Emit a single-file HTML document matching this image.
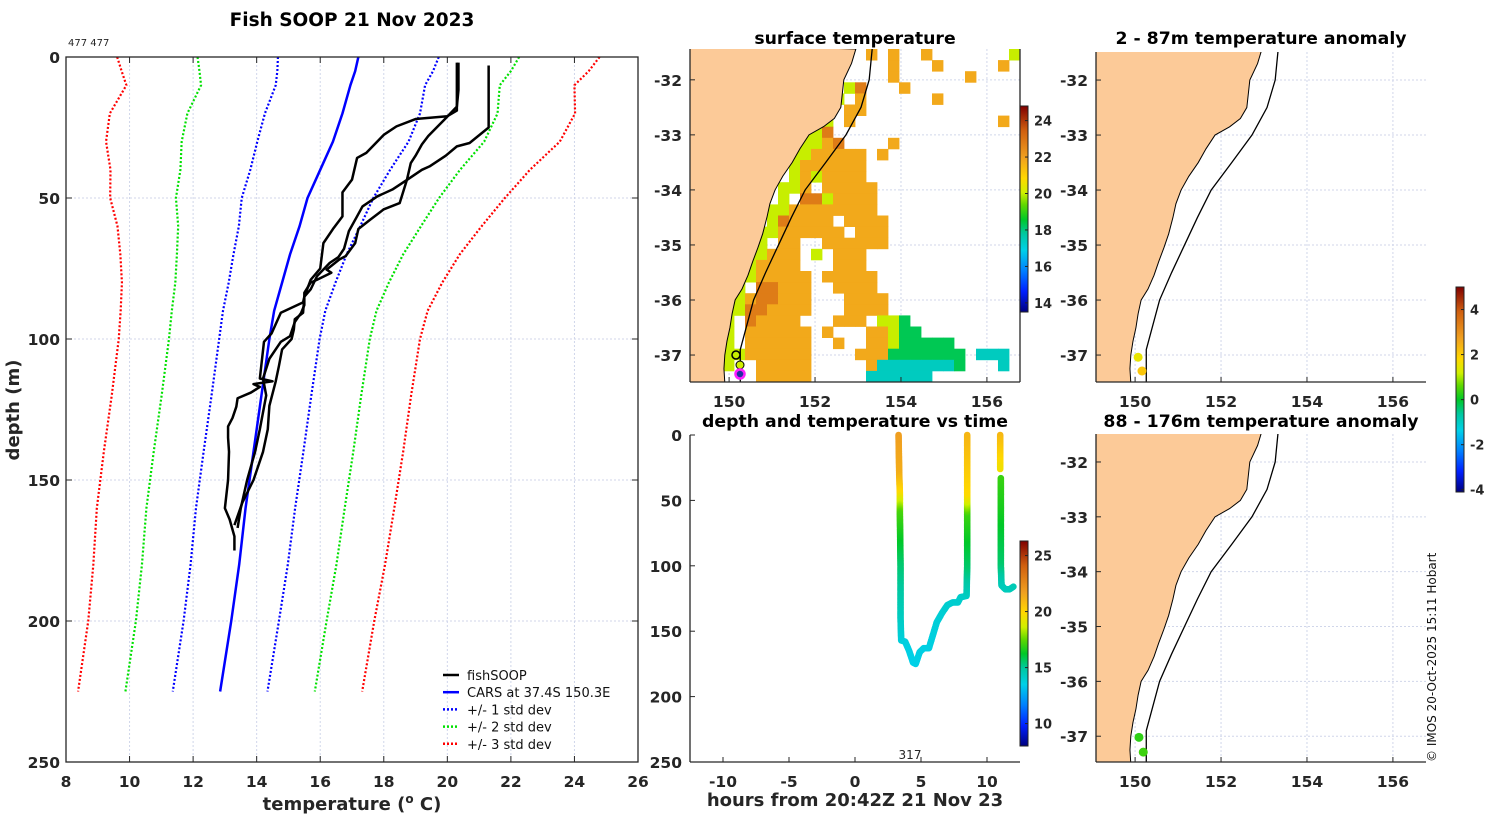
<!DOCTYPE html>
<html><head><meta charset="utf-8"><style>
html,body{margin:0;padding:0;background:#fff;}
svg{display:block;font-family:"DejaVu Sans","Liberation Sans",sans-serif;}
.tk{font-size:15.5px;font-weight:bold;fill:#262626;}
.ax{font-size:18px;font-weight:bold;fill:#262626;}
.ttl{font-size:17.3px;font-weight:bold;fill:#000;}
</style></head><body>
<svg id="fig" width="1500" height="820" viewBox="0 0 1500 820" xmlns="http://www.w3.org/2000/svg"></svg>
<script>
// ---------- Profile panel data ----------
const carsDepth = [0,5,10,20,30,40,50,60,70,80,90,100,120,140,160,180,200,225];
const carsMean  = [17.2,17.1,16.95,16.7,16.4,16.0,15.6,15.35,15.05,14.8,14.55,14.4,14.15,13.9,13.65,13.45,13.2,12.85];
const carsStd   = [2.53,2.45,2.35,2.44,2.38,2.2,2.07,1.91,1.78,1.68,1.61,1.58,1.57,1.57,1.56,1.53,1.5,1.49];
const soop1T = [20.3,20.3,20.3,20.0,19.0,18.4,18.0,17.45,17.16,17.0,16.7,16.7,16.4,16.1,16.0,15.7,15.5,15.46,14.76,14.47,14.23,14.1,14.5,13.9,14.1,13.82,13.4,13.36,13.24,13.1,13.1,13.13,13.1,13.0,13.15,13.3,13.3];
const soop1D = [2,14,19,21,22,24.6,27.6,34,35.8,43.5,48,56.5,61,66,75,79,85,87,90.7,98,101,114,115,116,117,119,121,124,128,131,135,140,150,160,164,170,175];
const soop2T = [20.35,20.35,20.3,19.9,19.4,19.2,19.0,18.85,18.73,18.5,18.0,17.57,17.2,17.1,16.8,16.6,16.2,16.35,15.9,15.7,15.5,15.5,15.4,15.2,15.05,14.76,14.4,14.2,14.3,14.1,13.95,13.7,13.5,13.4];
const soop2D = [2,11.7,17.6,22.3,28,31,35,37.6,43.5,51.8,54,57.7,61,66,70.6,71.8,75.4,76.5,79,80,83.6,88,90.7,94,99,101,107,114,120,132,140,150,160,167];
const soop3T = [21.3,21.3,20.7,20.3,19.95,19.44,19.2,18.74,18.27,17.8,17.33,17.16,16.9,16.75,16.57,16.3,15.9,15.7,15.5,15.46,15.2,15.17,15.1,14.8,14.7,14.6,14.4,14.35,14.2,13.9,13.55,13.3];
const soop3D = [3,25,30.5,31.7,35,38.8,40,43.5,47,49.4,53,56.5,61.8,68,71,73,77.7,82.4,85,90.7,93,96.6,100,103.7,109.6,115,123.7,132,140,150,158,166];
const profXTicks = [8,10,12,14,16,18,20,22,24,26];
const profYTicks = [0,50,100,150,200,250];

// ---------- SST grid (30 x 30 cells), char codes -> temperature ----------
const sstCodes = {y:20.0, o:21.8, d:22.8, g:18.3, t:17.4};
const sstRows = [
"................o.o..o.......y",
"..................o...o.....o.",
"..................o......o....",
"..............yd...o..........",
".............y.o......o.......",
"............y.oo..............",
"...........yy.o.............o.",
"..........yyd.................",
".........yyyod....o...........",
".........yyooooo.o............",
".........yoooooo..............",
".........yoyoooo..............",
"........yyo.ooooo.............",
"........y.ddyoooo.............",
".......yyoooooooo.............",
".......ydoooo.oooo............",
"......yyoooooo.ooo............",
"......y.oo..oooooo............",
".....yyooo.y.ooo..............",
".....yoooo...ooo..............",
"....yyooooo.ooooo.............",
"....y.ddooo..oooo.............",
"....yoddooo...oooo............",
"...yyddoooo...oooo............",
"...y.doooo...ooo.yyg..........",
"...y.oooooo.o...ooygg.........",
"...y.oooooo..o..ooyggggg......",
"...yyoooooo....oooggggggg.ttt.",
"...y..ooooo.....otttttttg...t.",
"......ooooo.....tttttt........"
];
// coastline and 200 m isobath (lon, lat)
const coastLon = [152.95,152.85,152.67,152.6,152.45,152.2,151.86,151.65,151.47,151.25,151.07,150.95,150.88,150.78,150.67,150.55,150.44,150.3,150.14,150.07,150.02,149.95,149.9,149.88,149.9];
const coastLat = [-31.44,-31.7,-32.0,-32.5,-32.7,-32.85,-33.0,-33.25,-33.5,-33.75,-34.0,-34.25,-34.5,-34.8,-35.05,-35.3,-35.55,-35.8,-36.0,-36.25,-36.5,-36.75,-37.0,-37.25,-37.5];
const isoLon = [153.33,153.26,153.07,152.72,152.25,151.77,151.45,151.15,150.85,150.57,150.26,150.26];
const isoLat = [-31.44,-32.0,-32.5,-33.0,-33.5,-34.0,-34.5,-35.0,-35.5,-36.0,-36.9,-37.5];
const mapLonTicks = [150,152,154,156];
const mapLatTicks = [-32,-33,-34,-35,-36,-37];
const anomShallowLon = [150.07,150.16], anomShallowLat = [-37.04,-37.29], anomShallowVal = [1.5,2.1];
const anomDeepLon = [150.09,150.19], anomDeepLat = [-37.02,-37.29], anomDeepVal = [0.3,0.4];

// ---------- time-depth data ----------
const tdT1 = [3.3,3.35,3.4,3.4,3.45,3.45,3.5,3.8,4.1,4.4,4.6,4.9,5.2,5.6,5.9,6.2,6.6,7.0,7.4,7.8,8.0,8.45,8.5,8.5,8.5,8.5];
const tdD1 = [0,30,45,60,100,140,157,158,165,174,175,166,163,163,153,143,136,130,128,128,124,123,100,60,45,0];
const tdC1 = [21.8,21.3,19.8,17.2,15.5,14.3,13.8,13.7,13.6,13.5,13.5,13.6,13.6,13.6,13.7,13.8,13.9,14.0,14.0,14.0,14.1,14.2,15.5,17.0,19.8,21.0];
const tdT2 = [11.0,11.0];
const tdD2 = [0,26];
const tdC2 = [21.0,19.5];
const tdT3 = [11.05,11.05,11.05,11.1,11.4,11.7,12.0];
const tdD3 = [33,60,100,115,118,118,116];
const tdC3 = [17.0,16.5,15.5,14.5,14.4,14.4,14.5];
const tdXTicks = [-10,-5,0,5,10];
const tdYTicks = [0,50,100,150,200,250];
const sstCbTicks = [14,16,18,20,22,24];
const tdCbTicks = [10,15,20,25];
const anomCbTicks = [-4,-2,0,2,4];

// ---------- helpers ----------
const NS = "http://www.w3.org/2000/svg";
const svg = document.getElementById('fig');
function mk(tag, attrs, parent){
  const e = document.createElementNS(NS, tag);
  for (const k in attrs) e.setAttribute(k, attrs[k]);
  (parent||svg).appendChild(e); return e;
}
function txt(x,y,s,cls,anchor,parent){
  const t = mk('text',{x:x,y:y,'class':cls||'tk','text-anchor':anchor||'middle'},parent);
  t.textContent = s; return t;
}
const stops = [[0,[0,0,127]],[0.1,[0,32,255]],[0.2,[0,128,255]],[0.3,[0,208,232]],[0.38,[0,200,160]],[0.45,[0,200,40]],[0.52,[96,216,0]],[0.58,[208,240,0]],[0.65,[255,216,0]],[0.75,[240,160,32]],[0.88,[208,96,16]],[1,[128,0,0]]];
function cmap(f){
  f = Math.max(0,Math.min(1,f));
  for (let i=1;i<stops.length;i++){
    if (f<=stops[i][0]){
      const a=stops[i-1], b=stops[i], u=(f-a[0])/(b[0]-a[0]);
      const c=a[1].map((v,j)=>Math.round(v+(b[1][j]-v)*u));
      return 'rgb('+c.join(',')+')';
    }
  }
  return 'rgb(128,0,0)';
}
let gradN = 0;
function colorbar(x,y0,y1,vmin,vmax,ticks,name){
  const g = mk('g',{});
  
  
  const id = 'cg'+(gradN++);
  const defs = mk('defs',{},g);
  const lg = mk('linearGradient',{id:id,x1:0,y1:1,x2:0,y2:0},defs);
  stops.forEach(s=>mk('stop',{offset:s[0],'stop-color':cmap(s[0])},lg));
  mk('rect',{x:x,y:y0,width:8,height:y1-y0,fill:'url(#'+id+')',stroke:'#222','stroke-width':1},g);
  ticks.forEach(v=>{
    const yy = y1-(v-vmin)/(vmax-vmin)*(y1-y0);
    mk('line',{x1:x+5,x2:x+8,y1:yy,y2:yy,stroke:'#222'},g);
    txt(x+14,yy+5,String(v),'tk','start',g).setAttribute('style','font-size:13px');
  });
}

// ---------- Profile panel ----------
(function(){
  const X0=66,X1=638,Y0=57,Y1=762;
  const sx = v=>X0+(v-8)/18*(X1-X0);
  const sy = d=>Y0+d/250*(Y1-Y0);
  const g = mk('g',{});
  
  
  profXTicks.forEach(v=>{ if(v>8&&v<26) mk('line',{x1:sx(v),x2:sx(v),y1:Y0,y2:Y1,stroke:'#d0d6ea','stroke-dasharray':'2,2','stroke-width':1},g); });
  profYTicks.forEach(v=>{ if(v>0&&v<250) mk('line',{x1:X0,x2:X1,y1:sy(v),y2:sy(v),stroke:'#d0d6ea','stroke-dasharray':'2,2','stroke-width':1},g); });
  function pl(xs,ds,col,w,dash,name){
    const p = mk('polyline',{points:xs.map((v,i)=>sx(v)+','+sy(ds[i])).join(' '),fill:'none',stroke:col,'stroke-width':w,'stroke-linejoin':'round'},g);
    if(dash) p.setAttribute('stroke-dasharray',dash);
    
    
  }
  const cols = {1:'#0000ff',2:'#00e000',3:'#ff0000'};
  [3,2,1].forEach(k=>{
    pl(carsMean.map((m,i)=>m-k*carsStd[i]),carsDepth,cols[k],2.2,'2,2','cars-minus-'+k+'-std');
    pl(carsMean.map((m,i)=>m+k*carsStd[i]),carsDepth,cols[k],2.2,'2,2','cars-plus-'+k+'-std');
  });
  pl(carsMean,carsDepth,'#0000ff',2.5,null,'cars-mean-line');
  pl(soop1T,soop1D,'#000',2.5,null,'fishsoop-profile-1');
  pl(soop2T,soop2D,'#000',2.5,null,'fishsoop-profile-2');
  pl(soop3T,soop3D,'#000',2.5,null,'fishsoop-profile-3');
  mk('rect',{x:X0,y:Y0,width:X1-X0,height:Y1-Y0,fill:'none',stroke:'#262626','stroke-width':1.3},g);
  profXTicks.forEach(v=>{
    mk('line',{x1:sx(v),x2:sx(v),y1:Y1,y2:Y1-6,stroke:'#262626'},g);
    mk('line',{x1:sx(v),x2:sx(v),y1:Y0,y2:Y0+6,stroke:'#262626'},g);
    txt(sx(v),787,String(v),'tk','middle',g);
  });
  profYTicks.forEach(v=>{
    mk('line',{x1:X0,x2:X0+6,y1:sy(v),y2:sy(v),stroke:'#262626'},g);
    mk('line',{x1:X1,x2:X1-6,y1:sy(v),y2:sy(v),stroke:'#262626'},g);
    txt(60,sy(v)+6,String(v),'tk','end',g);
  });
  const xl = mk('text',{x:352,y:810,'class':'ax','text-anchor':'middle'},g);
  
  
  xl.innerHTML = 'temperature (<tspan dy="-7" font-size="12">o</tspan><tspan dy="7"> C)</tspan>';
  const yl = txt(0,0,'depth (m)','ax','middle',g);
  yl.setAttribute('transform','translate(19,410) rotate(-90)');
  
  
  const t = txt(352,26,'Fish SOOP 21 Nov 2023','ttl','middle',g);
  t.setAttribute('style','font-size:18.5px');
  
  
  const n = txt(68,46,'477 477','tk','start',g);
  n.setAttribute('style','font-size:10px;font-weight:normal');
  // legend
  const lg = mk('g',{},g);
  
  
  const items = [['fishSOOP','#000',null],['CARS at 37.4S 150.3E','#0000ff',null],['+/- 1 std dev','#0000ff','2,2'],['+/- 2 std dev','#00e000','2,2'],['+/- 3 std dev','#ff0000','2,2']];
  items.forEach((it,i)=>{
    const yy = 675+i*17.2;
    const ln = mk('line',{x1:443,x2:459,y1:yy,y2:yy,stroke:it[1],'stroke-width':2.5},lg);
    if(it[2]) ln.setAttribute('stroke-dasharray',it[2]);
    const tt = txt(467,yy+5,it[0],'tk','start',lg);
    tt.setAttribute('style','font-size:13px;font-weight:normal;fill:#111');
    
    
  });
})();

// ---------- Maps ----------
function mapPanel(name, X0,X1,Y0,Y1, latTop, latBot, title, titleY){
  const lon0=149.09, lon1=156.77;
  const sx = v=>X0+(v-lon0)/(lon1-lon0)*(X1-X0);
  const sy = v=>Y0+(latTop-v)/(latTop-latBot)*(Y1-Y0);
  const g = mk('g',{});
  
  
  const cid = 'clip'+name;
  const d = mk('defs',{},g);
  const cp = mk('clipPath',{id:cid},d);
  mk('rect',{x:X0,y:Y0,width:X1-X0,height:Y1-Y0},cp);
  const inner = mk('g',{'clip-path':'url(#'+cid+')'},g);
  mapLonTicks.forEach(v=>mk('line',{x1:sx(v),x2:sx(v),y1:Y0,y2:Y1,stroke:'#d0d6ea','stroke-dasharray':'2,2'},inner));
  mapLatTicks.forEach(v=>mk('line',{x1:X0,x2:X1,y1:sy(v),y2:sy(v),stroke:'#d0d6ea','stroke-dasharray':'2,2'},inner));
  const ret = {g:g, inner:inner, sx:sx, sy:sy};
  ret.finish = function(){
    let pts = coastLon.map((v,i)=>sx(v)+','+sy(coastLat[i]));
    const land = mk('polygon',{points:[X0-5+','+(Y0-5)].concat(pts).concat([X0-5+','+(Y1+5)]).join(' '),fill:'#fcca98',stroke:'#000','stroke-width':1},inner);
    
    
    const iso = mk('polyline',{points:isoLon.map((v,i)=>sx(v)+','+sy(isoLat[i])).join(' '),fill:'none',stroke:'#000','stroke-width':1.3},inner);
    
    
    mk('line',{x1:X0,x2:X1,y1:Y1,y2:Y1,stroke:'#262626','stroke-width':1.3},g);
    mk('line',{x1:X0,x2:X0,y1:Y0,y2:Y1,stroke:'#262626','stroke-width':1.3},g);
    mapLonTicks.forEach(v=>{ mk('line',{x1:sx(v),x2:sx(v),y1:Y1,y2:Y1-5,stroke:'#262626'},g); txt(sx(v),Y1+25,String(v),'tk','middle',g); });
    mapLatTicks.forEach(v=>{ mk('line',{x1:X0,x2:X0+5,y1:sy(v),y2:sy(v),stroke:'#262626'},g); txt(X0-8,sy(v)+6,String(v),'tk','end',g); });
    const tt = txt((X0+X1)/2,titleY,title,'ttl','middle',g);
    
    
  };
  return ret;
}

// surface temperature map
(function(){
  const m = mapPanel('sst-map',690,1020,49,382,-31.44,-37.49,'surface temperature',44);
  const cw=11, ch=333/30;
  const vmin=13.5, vmax=24.8;
  sstRows.forEach((row,r)=>{
    for (let c=0;c<row.length;c++){
      const code=row[c];
      if(!(code in sstCodes)) continue;
      const v = sstCodes[code];
      const cell = mk('rect',{x:690+c*cw,y:49+r*ch,width:cw+0.4,height:ch+0.4,fill:cmap((v-vmin)/(vmax-vmin))},m.inner);
      
      
    }
  });
  m.finish();
  mk('line',{x1:1020,x2:1020,y1:49,y2:382,stroke:'#262626','stroke-width':1.3},m.g);
  const a = mk('circle',{cx:736,cy:355,r:4,fill:'none',stroke:'#000','stroke-width':1.5},m.g);
  
  
  mk('circle',{cx:740,cy:365,r:4,fill:'#d0ee00',stroke:'#000','stroke-width':1},m.g);
  const b = mk('circle',{cx:740,cy:374,r:4.5,fill:'#2030a0',stroke:'#ff20ff','stroke-width':2.5},m.g);
  
  
  colorbar(1020,106,312,vmin,vmax,sstCbTicks,'sst-colorbar');
})();

// anomaly maps
function anomMap(name,Y0,Y1,latTop,latBot,title,titleY,lons,lats,vals){
  const m = mapPanel(name,1096,1426,Y0,Y1,latTop,latBot,title,titleY);
  m.finish();
  lons.forEach((lo,i)=>{
    const c = mk('circle',{cx:m.sx(lo),cy:m.sy(lats[i]),r:4.5,fill:cmap((vals[i]+4.1)/9.1)},m.g);
    
    
  });
}
anomMap('anomaly-map-shallow',52,382,-31.49,-37.49,'2 - 87m temperature anomaly',44,anomShallowLon,anomShallowLat,anomShallowVal);
anomMap('anomaly-map-deep',434,762,-31.49,-37.47,'88 - 176m temperature anomaly',427,anomDeepLon,anomDeepLat,anomDeepVal);
colorbar(1456,287,492,-4.1,5,anomCbTicks,'anomaly-colorbar');

// ---------- depth & temperature vs time ----------
(function(){
  const X0=690,X1=1020,Y0=435,Y1=762;
  const sx = t=>X0+(t+12.5)/25*(X1-X0);
  const sy = d=>Y0+d/250*(Y1-Y0);
  const vmin=8, vmax=26.3;
  const g = mk('g',{});
  
  
  function series(ts,ds,cs,name){
    const sg = mk('g',{},g);
    
    
    for(let i=0;i<ts.length;i++){
      if(i===0){ mk('circle',{cx:sx(ts[0]),cy:sy(ds[0]),r:3.3,fill:cmap((cs[0]-vmin)/(vmax-vmin))},sg); continue; }
      const x0=sx(ts[i-1]),y0=sy(ds[i-1]),x1=sx(ts[i]),y1=sy(ds[i]);
      const n=Math.max(1,Math.ceil(Math.hypot(x1-x0,y1-y0)/1.2));
      for(let k=1;k<=n;k++){
        const u=k/n, c=cs[i-1]+(cs[i]-cs[i-1])*u;
        mk('circle',{cx:x0+(x1-x0)*u,cy:y0+(y1-y0)*u,r:3.3,fill:cmap((c-vmin)/(vmax-vmin))},sg);
      }
    }
  }
  series(tdT1,tdD1,tdC1,'dive-series-1');
  series(tdT2,tdD2,tdC2,'dive-series-2');
  series(tdT3,tdD3,tdC3,'dive-series-3');
  mk('line',{x1:X0,x2:X1,y1:Y1,y2:Y1,stroke:'#262626','stroke-width':1.3},g);
  mk('line',{x1:X0,x2:X0,y1:Y0,y2:Y1,stroke:'#262626','stroke-width':1.3},g);
  tdXTicks.forEach(v=>{ mk('line',{x1:sx(v),x2:sx(v),y1:Y1,y2:Y1-5,stroke:'#262626'},g); txt(sx(v),787,String(v),'tk','middle',g); });
  tdYTicks.forEach(v=>{ mk('line',{x1:X0,x2:X0+5,y1:sy(v),y2:sy(v),stroke:'#262626'},g); txt(X0-8,sy(v)+6,String(v),'tk','end',g); });
  const t = txt(855,427,'depth and temperature vs time','ttl','middle',g);
  
  
  const xl = txt(855,806,'hours from 20:42Z 21 Nov 23','ax','middle',g);
  
  
  txt(910,759,'317','tk','middle',g).setAttribute('style','font-size:12px;font-weight:normal');
  colorbar(1020,541,746,vmin,vmax,tdCbTicks,'depth-time-colorbar');
})();

const cr = txt(0,0,'© IMOS 20-Oct-2025 15:11 Hobart','tk','start');
cr.setAttribute('transform','translate(1436,762) rotate(-90)');
cr.setAttribute('style','font-size:12px;font-weight:normal;fill:#111');


</script>
</body></html>
